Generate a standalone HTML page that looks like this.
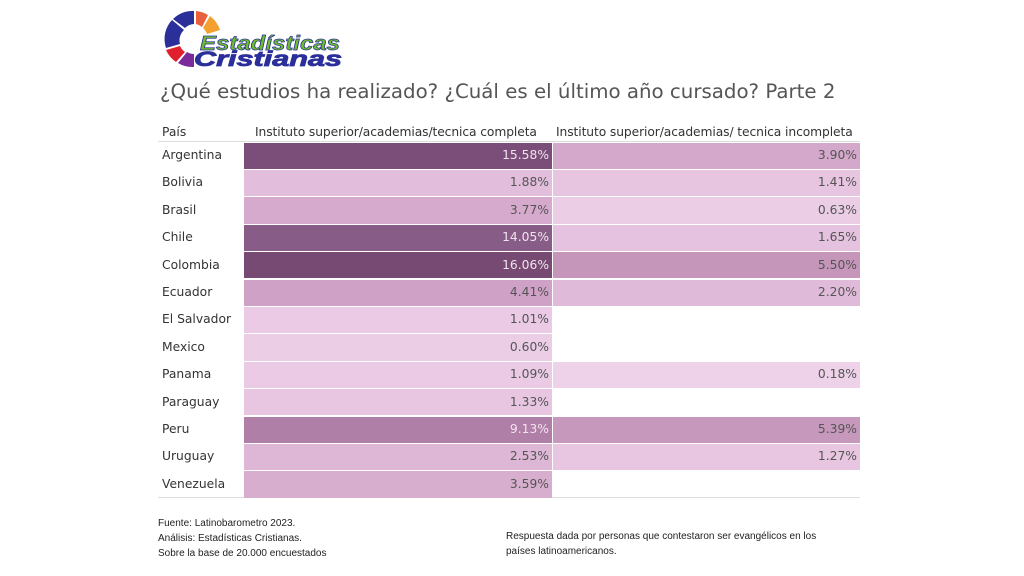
<!DOCTYPE html>
<html><head><meta charset="utf-8"><style>
body{margin:0;width:1024px;height:576px;background:#fff;position:relative;overflow:hidden;font-family:"DejaVu Sans","Liberation Sans",sans-serif;}
.a{position:absolute;white-space:nowrap;}
.c{position:absolute;height:26.4px;}
.t{position:absolute;font-size:12.3px;line-height:27.4px;white-space:nowrap;}
</style></head><body>
<svg class="a" style="left:158px;top:6px" width="200" height="62" viewBox="0 0 200 62">
<path d="M14 14 A28 28 0 0 0 8 42 L22 38 A14 14 0 0 1 26 24 Z" fill="#2b2f9a"/>
<path d="M15 13 A28 28 0 0 1 36 5 L36 18 A14 14 0 0 0 27 22 Z" fill="#2b2f9a"/>
<path d="M38 5 A28 28 0 0 1 50 9 L44 21 A14 14 0 0 0 38 18 Z" fill="#e8603c"/>
<path d="M52 10 A28 28 0 0 1 62 24 L49 28 A14 14 0 0 0 45 22 Z" fill="#f2a030"/>
<path d="M8 44 A28 28 0 0 0 18 56 L27 46 A14 14 0 0 1 22 40 Z" fill="#e0202c"/>
<path d="M20 57 A28 28 0 0 0 36 61 L36 48 A14 14 0 0 1 29 46 Z" fill="#7a2a9a"/>
<text x="42" y="44" font-family="Liberation Sans" font-weight="bold" font-style="italic" font-size="20" fill="#6cbf2a" stroke="#2b2f9a" stroke-width="0.7" textLength="140" lengthAdjust="spacingAndGlyphs">Estadísticas</text>
<text x="36" y="60" font-family="Liberation Sans" font-weight="bold" font-style="italic" font-size="21" fill="#2b2f9a" stroke="#2b2f9a" stroke-width="0.8" textLength="148" lengthAdjust="spacingAndGlyphs">Cristianas</text>
</svg>
<div class="a" style="left:160px;top:80px;font-size:19.8px;color:#555;">¿Qué estudios ha realizado? ¿Cuál es el último año cursado? Parte 2</div>
<div class="a" style="left:162px;top:125px;font-size:12.3px;color:#333;">País</div>
<div class="a" style="left:255px;top:125px;font-size:12.3px;color:#333;letter-spacing:-0.1px">Instituto superior/academias/tecnica completa</div>
<div class="a" style="left:556px;top:125px;font-size:12.3px;color:#333;letter-spacing:-0.1px">Instituto superior/academias/ tecnica incompleta</div>
<div class="a" style="left:158px;top:141px;width:702px;height:1px;background:#ddd"></div>
<div class="a" style="left:158px;top:497px;width:702px;height:1px;background:#ddd"></div>
<div id="rows"></div>
<script>
var d=[["Argentina","15.58%","#7a4e78",1,"3.90%","#d4a8ca"],["Bolivia","1.88%","#e3bedc",0,"1.41%","#e7c5e1"],["Brasil","3.77%","#d6aacc",0,"0.63%","#ebcde6"],["Chile","14.05%","#875d87",1,"1.65%","#e5c2df"],["Colombia","16.06%","#774a73",1,"5.50%","#c596ba"],["Ecuador","4.41%","#cfa1c6",0,"2.20%","#e0bad9"],["El Salvador","1.01%","#eacae4",0,"",""],["Mexico","0.60%","#ebcde6",0,"",""],["Panama","1.09%","#eacae4",0,"0.18%","#eed2ea"],["Paraguay","1.33%","#e8c6e2",0,"",""],["Peru","9.13%","#b07fa7",1,"5.39%","#c698bb"],["Uruguay","2.53%","#deb6d6",0,"1.27%","#e8c6e2"],["Venezuela","3.59%","#d8aece",0,"",""]];
var h="";d.forEach(function(r,i){var y=142+i*27.4;
h+='<div class="t" style="left:162px;top:'+y+'px;color:#333">'+r[0]+'</div>';
h+='<div class="c" style="left:244px;top:'+(y+0.5)+'px;width:308px;background:'+r[2]+'"></div>';
h+='<div class="t" style="left:244px;width:305px;text-align:right;top:'+y+'px;color:'+(r[3]?'#f0e4ee':'#555')+'">'+r[1]+'</div>';
if(r[4]){h+='<div class="c" style="left:553px;top:'+(y+0.5)+'px;width:307px;background:'+r[5]+'"></div>';
h+='<div class="t" style="left:553px;width:304px;text-align:right;top:'+y+'px;color:#555">'+r[4]+'</div>';}});
document.getElementById("rows").innerHTML=h;
</script>
<div class="a" style="left:158px;top:516px;font-size:10px;line-height:15px;color:#222;font-family:'Liberation Sans',sans-serif;">Fuente: Latinobarometro 2023.<br>Análisis: Estadísticas Cristianas.<br>Sobre la base de 20.000 encuestados</div>
<div class="a" style="left:506px;top:529px;font-size:10px;line-height:15px;color:#222;font-family:'Liberation Sans',sans-serif;">Respuesta dada por personas que contestaron ser evangélicos en los<br>países latinoamericanos.</div>
</body></html>
